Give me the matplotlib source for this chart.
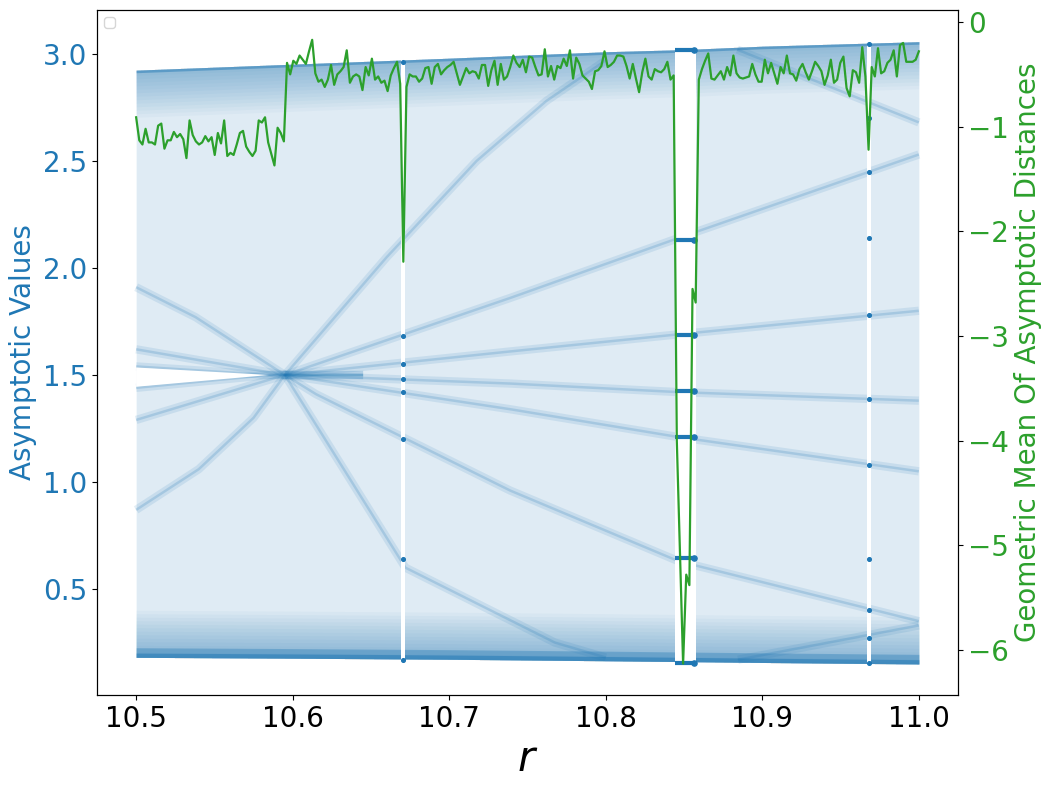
import numpy as np
import matplotlib.pyplot as plt

# geometric mean of asymptotic distances, 250 samples of r in [10.5, 11.0]
r_start, r_end = 10.5, 11.0
dist_vals = [
    -0.91, -1.13, -1.17, -1.02, -1.15, -1.15, -1.17, -0.99, -0.97, -1.21,
    -1.13, -1.13, -1.05, -1.10, -1.07, -1.12, -1.30, -0.94, -1.08, -1.14,
    -1.17, -1.15, -1.09, -1.14, -1.10, -1.27, -1.06, -1.16, -0.94, -1.28,
    -1.25, -1.27, -1.17, -1.06, -1.04, -1.19, -1.24, -1.28, -1.23, -0.94,
    -0.96, -0.91, -1.15, -1.26, -1.37, -1.01, -1.06, -1.14, -0.39, -0.50,
    -0.37, -0.40, -0.32, -0.36, -0.40, -0.28, -0.17, -0.49, -0.57, -0.55,
    -0.62, -0.55, -0.41, -0.60, -0.50, -0.47, -0.43, -0.27, -0.58, -0.52,
    -0.50, -0.52, -0.65, -0.43, -0.51, -0.35, -0.55, -0.52, -0.58, -0.56,
    -0.66, -0.51, -0.44, -0.38, -0.59, -2.29, -0.62, -0.50, -0.52, -0.52,
    -0.57, -0.54, -0.44, -0.43, -0.59, -0.43, -0.40, -0.50, -0.46, -0.43,
    -0.41, -0.38, -0.49, -0.60, -0.52, -0.44, -0.49, -0.47, -0.48, -0.54,
    -0.41, -0.41, -0.61, -0.46, -0.37, -0.60, -0.40, -0.55, -0.52, -0.43,
    -0.32, -0.39, -0.43, -0.36, -0.48, -0.33, -0.34, -0.43, -0.51, -0.50,
    -0.26, -0.52, -0.42, -0.55, -0.42, -0.44, -0.35, -0.42, -0.27, -0.54,
    -0.34, -0.40, -0.51, -0.54, -0.57, -0.64, -0.47, -0.46, -0.42, -0.28,
    -0.43, -0.41, -0.38, -0.32, -0.32, -0.33, -0.42, -0.54, -0.40, -0.54,
    -0.67, -0.48, -0.35, -0.52, -0.55, -0.45, -0.47, -0.48, -0.45, -0.38,
    -0.55, -0.51, -4.00, -5.05, -6.13, -5.28, -5.38, -2.55, -2.68, -0.55,
    -0.45, -0.37, -0.30, -0.54, -0.55, -0.51, -0.47, -0.55, -0.43, -0.51,
    -0.32, -0.49, -0.53, -0.54, -0.53, -0.52, -0.40, -0.50, -0.57, -0.57,
    -0.36, -0.49, -0.39, -0.49, -0.59, -0.43, -0.49, -0.32, -0.49, -0.50,
    -0.56, -0.45, -0.40, -0.48, -0.55, -0.47, -0.38, -0.42, -0.47, -0.60,
    -0.51, -0.36, -0.58, -0.55, -0.39, -0.33, -0.63, -0.71, -0.46, -0.48,
    -0.58, -0.24, -0.52, -1.22, -0.43, -0.52, -0.25, -0.49, -0.47, -0.39,
    -0.36, -0.27, -0.52, -0.22, -0.20, -0.38, -0.38, -0.38, -0.36, -0.28,
]

# outer edges of the chaotic point cloud
edge_r = [10.5, 10.6, 10.7, 10.8, 10.85, 10.9, 11.0]
edge_top = [2.924, 2.952, 2.980, 3.010, 3.020, 3.036, 3.057]
edge_bottom = [0.181, 0.177, 0.172, 0.165, 0.161, 0.157, 0.150]

# periodic windows (empty columns in the cloud)
gap_lo = [10.6693, 10.8444, 10.9670]
gap_hi = [10.6716, 10.8579, 10.9692]

# empty wedge left of the crossing
wedge_r = [10.5, 10.585, 10.5]
wedge_v = [1.535, 1.50, 1.445]

# denser curves inside the cloud
b1_r, b1_v = [10.5, 10.538, 10.595], [1.91, 1.77, 1.50]
b2_r, b2_v = [10.5, 10.595], [1.62, 1.50]
b3_r, b3_v = [10.5, 10.585, 10.645], [1.54, 1.50, 1.50]
b4_r, b4_v = [10.5, 10.585, 10.645], [1.44, 1.50, 1.50]
b5_r, b5_v = [10.5, 10.595], [1.29, 1.50]
b6_r, b6_v = [10.5, 10.54, 10.575, 10.595], [0.87, 1.06, 1.30, 1.50]
b7_r, b7_v = [10.595, 10.739, 10.8465, 11.0], [1.50, 1.86, 2.14, 2.53]
b8_r, b8_v = [10.595, 10.739, 10.8465, 11.0], [1.50, 1.61, 1.69, 1.80]
b9_r, b9_v = [10.595, 10.739, 10.8465, 11.0], [1.50, 1.46, 1.42, 1.38]
b10_r, b10_v = [10.595, 10.739, 10.8465, 11.0], [1.50, 1.34, 1.21, 1.05]
b11_r, b11_v = [10.595, 10.615, 10.739, 10.8465, 11.0], [1.50, 1.41, 0.96, 0.63, 0.35]
b12_r, b12_v = [10.595, 10.66, 10.7175, 10.762, 10.80], [1.50, 2.05, 2.50, 2.78, 2.97]
b13_r, b13_v = [10.884, 11.0], [3.02, 2.68]
b14_r, b14_v = [10.595, 10.672, 10.7675, 10.80], [1.50, 0.60, 0.25, 0.18]
b15_r, b15_v = [10.8845, 11.0], [0.17, 0.33]

# orbits inside the windows
w1_r = 10.6705
w1_v = [2.96, 1.68, 1.55, 1.48, 1.42, 1.20, 0.64, 0.17]
w2_r0, w2_r1 = 10.8444, 10.8562
w2_v = [3.02, 2.13, 1.685, 1.425, 1.21, 0.643, 0.156]
w3_r = 10.968
w3_v = [3.048, 2.70, 2.45, 2.14, 1.78, 1.39, 1.08, 0.64, 0.40, 0.27, 0.155]

blue = '#1f77b4'
green = '#2ca02c'

fig, ax = plt.subplots(figsize=(10.51, 7.88), dpi=100)
fig.subplots_adjust(left=0.0923, right=0.9115, bottom=0.118, top=0.9873)

# cloud body plus smooth darkening towards both edges
top = np.array(edge_top)
bot = np.array(edge_bottom)
ax.fill_between(edge_r, bot, top, color=blue, alpha=0.14, lw=0, zorder=1)
for d in np.linspace(0.008, 0.22, 14):
    ax.fill_between(edge_r, top - d, top, color=blue, alpha=0.035, lw=0, zorder=1)
    ax.fill_between(edge_r, bot, bot + d, color=blue, alpha=0.04, lw=0, zorder=1)
ax.fill_between(edge_r, top - 0.012, top, color=blue, alpha=0.45, lw=0, zorder=1)
ax.fill_between(edge_r, bot, bot + 0.045, color=blue, alpha=0.35, lw=0, zorder=1)
ax.fill_between(edge_r, bot, bot + 0.02, color=blue, alpha=0.5, lw=0, zorder=1)

branches = [(b1_r, b1_v), (b2_r, b2_v), (b3_r, b3_v), (b4_r, b4_v), (b5_r, b5_v),
            (b6_r, b6_v), (b7_r, b7_v), (b8_r, b8_v), (b9_r, b9_v), (b10_r, b10_v),
            (b11_r, b11_v), (b12_r, b12_v), (b13_r, b13_v), (b14_r, b14_v),
            (b15_r, b15_v)]
for br, bv in branches:
    ax.plot(br, bv, color=blue, alpha=0.12, lw=6, solid_capstyle='butt', zorder=1.5)
    ax.plot(br, bv, color=blue, alpha=0.2, lw=1.8, solid_capstyle='butt', zorder=1.5)

ax.fill(wedge_r, wedge_v, color='white', lw=0, zorder=2)
for lo, hi in zip(gap_lo, gap_hi):
    ax.axvspan(lo, hi, color='white', lw=0, zorder=2)

ax.scatter([w1_r] * len(w1_v), w1_v, s=7, color=blue, zorder=3)
ax.hlines(w2_v, w2_r0, w2_r1, color=blue, lw=3, zorder=3)
ax.scatter([w2_r1] * len(w2_v), w2_v, s=14, color=blue, zorder=3)
ax.scatter([w3_r] * len(w3_v), w3_v, s=7, color=blue, zorder=3)

ax.set_xlim(10.475, 11.025)
ax.set_ylim(0.005, 3.205)
ax.set_xlabel('$r$', fontsize=30)
ax.set_ylabel('Asymptotic Values', color=blue, fontsize=20)
ax.tick_params(axis='x', labelsize=20)
ax.tick_params(axis='y', labelsize=20, labelcolor=blue)
ax.legend(loc='upper left')

ax2 = ax.twinx()
r_grid = np.linspace(r_start, r_end, len(dist_vals))
ax2.plot(r_grid, dist_vals, color=green, lw=1.6)
ax2.set_ylim(-6.43, 0.115)
ax2.set_ylabel('Geometric Mean Of Asymptotic Distances', color=green, fontsize=20)
ax2.tick_params(axis='y', labelsize=20, labelcolor=green)

fig.savefig('out.png', dpi=100)
